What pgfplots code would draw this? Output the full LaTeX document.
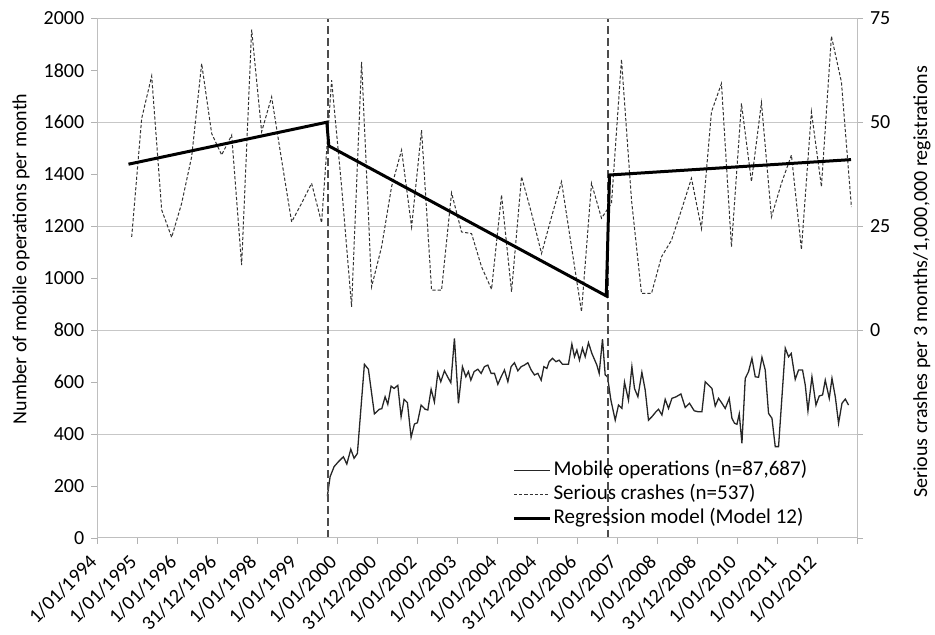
\documentclass[border=0pt]{standalone}
\usepackage{fontspec}
\setmainfont{Carlito}
\usepackage{pgfplots}
\pgfplotsset{compat=1.18}

% 1 px of the reference = 0.5pt here
\pgfplotsset{
  base/.style={
    width=379.85pt, height=259.75pt, scale only axis,
    xmin=1994, xmax=2013,
    axis line style={draw=black!25},
    tick style={draw=black!30},
    major tick length=3pt, tick align=outside,
    ticklabel style={font=\fontsize{10}{12}\selectfont, text=black},
    label style={font=\fontsize{10}{12}\selectfont, text=black},
    /pgf/number format/assume math mode=true,
    /pgf/number format/1000 sep={},
  },
}

\begin{document}
\begin{tikzpicture}[font=\fontsize{10}{12}\selectfont]
\begin{axis}[base,
  ymin=0, ymax=2000, ytick={0,200,...,2000},
  xtick={1994,...,2013},
  xticklabels={1/01/1994,1/01/1995,1/01/1996,31/12/1996,1/01/1998,1/01/1999,1/01/2000,31/12/2000,1/01/2002,1/01/2003,1/01/2004,31/12/2004,1/01/2006,1/01/2007,1/01/2008,31/12/2008,1/01/2010,1/01/2011,1/01/2012,{}},
  xtick pos=bottom, ytick pos=left,
  xticklabel style={xshift=0.5pt, yshift=-5pt, rotate=45, anchor=east},
  extra y ticks={400,800,1200,1600,2000}, extra y tick labels={},
  extra y tick style={ymajorgrids=true},
  major grid style={draw=black!22},
  ylabel={Number of mobile operations per month},
  every axis y label/.style={at={(axis description cs:-0.1004,0.537)}, rotate=90, anchor=center},
]
% mobile operations per month
\addplot[black!85, line width=0.65pt] coordinates {
(1999.754,160) (1999.822,235) (1999.922,274) (2000.030,293) (2000.155,312) (2000.240,284) (2000.340,341) (2000.422,306) (2000.505,325) (2000.680,668) (2000.780,649) (2000.930,477) (2001.055,495) (2001.115,497) (2001.198,543) (2001.265,514) (2001.348,584) (2001.423,575) (2001.516,587) (2001.598,466) (2001.673,533) (2001.756,520) (2001.848,387) (2001.931,438) (2002.006,443) (2002.099,511) (2002.199,495) (2002.266,492) (2002.349,572) (2002.431,523) (2002.516,636) (2002.591,601) (2002.682,643) (2002.767,618) (2002.842,597) (2002.932,768) (2003.032,518) (2003.132,659) (2003.217,620) (2003.282,640) (2003.342,607) (2003.425,640) (2003.517,649) (2003.600,633) (2003.682,659) (2003.767,665) (2003.850,633) (2003.933,633) (2004.018,591) (2004.100,620) (2004.183,646) (2004.268,601) (2004.350,659) (2004.433,674) (2004.518,643) (2004.601,659) (2004.683,665) (2004.768,674) (2004.851,646) (2004.933,627) (2005.018,633) (2005.101,607) (2005.168,659) (2005.244,652) (2005.301,678) (2005.384,691) (2005.469,678) (2005.551,684) (2005.634,668) (2005.719,668) (2005.784,668) (2005.869,746) (2005.934,697) (2005.994,723) (2006.059,684) (2006.134,730) (2006.202,697) (2006.284,751) (2006.369,710) (2006.494,665) (2006.552,633) (2006.635,765) (2006.702,627) (2006.760,620) (2006.845,530) (2006.953,453) (2007.035,511) (2007.120,498) (2007.185,599) (2007.285,530) (2007.370,659) (2007.435,575) (2007.520,543) (2007.620,637) (2007.703,569) (2007.785,453) (2007.870,466) (2007.970,485) (2008.036,495) (2008.121,473) (2008.203,533) (2008.286,498) (2008.371,537) (2008.478,543) (2008.596,554) (2008.703,502) (2008.811,518) (2008.929,489) (2009.036,485) (2009.121,485) (2009.204,601) (2009.286,588) (2009.372,575) (2009.454,507) (2009.537,537) (2009.622,518) (2009.704,498) (2009.804,537) (2009.872,460) (2009.937,441) (2009.997,437) (2010.055,477) (2010.122,364) (2010.205,614) (2010.288,640) (2010.372,691) (2010.455,620) (2010.538,618) (2010.623,695) (2010.705,646) (2010.788,479) (2010.873,460) (2010.955,351) (2011.038,351) (2011.206,730) (2011.288,697) (2011.355,710) (2011.455,610) (2011.538,646) (2011.638,646) (2011.706,588) (2011.773,489) (2011.873,620) (2011.974,511) (2012.056,546) (2012.139,550) (2012.206,607) (2012.306,537) (2012.374,614) (2012.457,543) (2012.539,441) (2012.624,518) (2012.707,534) (2012.789,511)
};
% intervention dates
\addplot[black!70, line width=0.6pt, dash pattern=on 4pt off 2pt] coordinates {(1999.77,0) (1999.77,2000)};
\addplot[black!70, line width=0.6pt, dash pattern=on 4pt off 2pt] coordinates {(2006.77,0) (2006.77,2000)};
\end{axis}

\begin{axis}[base,
  ymin=-50, ymax=75, ytick={-50,-25,...,75}, yticklabels={,,0,25,50,75},
  ytick pos=right, yticklabel pos=right,
  xtick=\empty,
  ylabel={Serious crashes per 3 months/1,000,000 registrations},
  every axis y label/.style={at={(axis description cs:1.0855,0.4924)}, rotate=90, anchor=center},
  legend style={at={(axis description cs:0.546,0.1536)}, anchor=north west,
    draw=none, fill=none, inner sep=0pt, row sep=0pt,
    font=\fontsize{10.5}{12}\selectfont,
    nodes={inner sep=1pt, text height=7.5pt, text depth=2.5pt, anchor=west}},
  legend cell align=left,
  legend image code/.code={\draw[#1] (0pt,0pt) -- (18pt,0pt);},
]
\addlegendimage{black!85, line width=0.65pt}
\addlegendentry{Mobile operations (n=87,687)}
% serious crashes per quarter
\addplot[black!80, line width=0.5pt, dash pattern=on 1.6pt off 1pt] coordinates {
(1994.86,22.4) (1995.11,50.9) (1995.36,61.1) (1995.61,28.9) (1995.86,22.3) (1996.11,30.5) (1996.36,41.7) (1996.61,64.1) (1996.86,47.3) (1997.11,42.1) (1997.36,46.9) (1997.61,15.6) (1997.86,72.3) (1998.11,47.7) (1998.36,56.1) (1998.61,40.9) (1998.86,26.0) (1999.11,30.5) (1999.36,35.3) (1999.61,25.8) (1999.86,60.1) (2000.11,34.5) (2000.36,5.6) (2000.61,64.5) (2000.86,10.4) (2001.11,20.0) (2001.36,34.5) (2001.61,43.3) (2001.86,24.8) (2002.11,48.1) (2002.36,9.6) (2002.61,9.6) (2002.86,33.0) (2003.11,23.6) (2003.36,23.2) (2003.61,15.2) (2003.86,9.8) (2004.11,32.5) (2004.36,9.2) (2004.61,36.9) (2004.86,28.1) (2005.11,18.4) (2005.36,27.2) (2005.61,35.7) (2005.86,20.0) (2006.11,4.4) (2006.36,35.3) (2006.61,26.9) (2006.86,30.5) (2007.11,65.1) (2007.36,31.3) (2007.61,8.8) (2007.86,8.8) (2008.11,17.6) (2008.36,21.6) (2008.61,28.9) (2008.86,36.5) (2009.11,24.4) (2009.36,52.5) (2009.61,59.3) (2009.86,20.0) (2010.11,54.5) (2010.36,35.7) (2010.61,54.7) (2010.86,27.2) (2011.11,35.3) (2011.36,42.1) (2011.61,19.4) (2011.86,52.5) (2012.11,34.5) (2012.36,70.7) (2012.61,59.7) (2012.86,29.6)
};
\addlegendentry{Serious crashes (n=537)}
% regression model
\addplot[black, line width=1.5pt] coordinates {
(1994.78,39.9) (1999.74,50.0) (1999.79,44.3) (2006.73,8.2) (2006.81,37.3) (2012.85,41.0)
};
\addlegendentry{Regression model (Model 12)}
\end{axis}
\pgfresetboundingbox
\useasboundingbox (-48.65pt,-48.1pt) rectangle (418.85pt,268.9pt);
\end{tikzpicture}
\end{document}
